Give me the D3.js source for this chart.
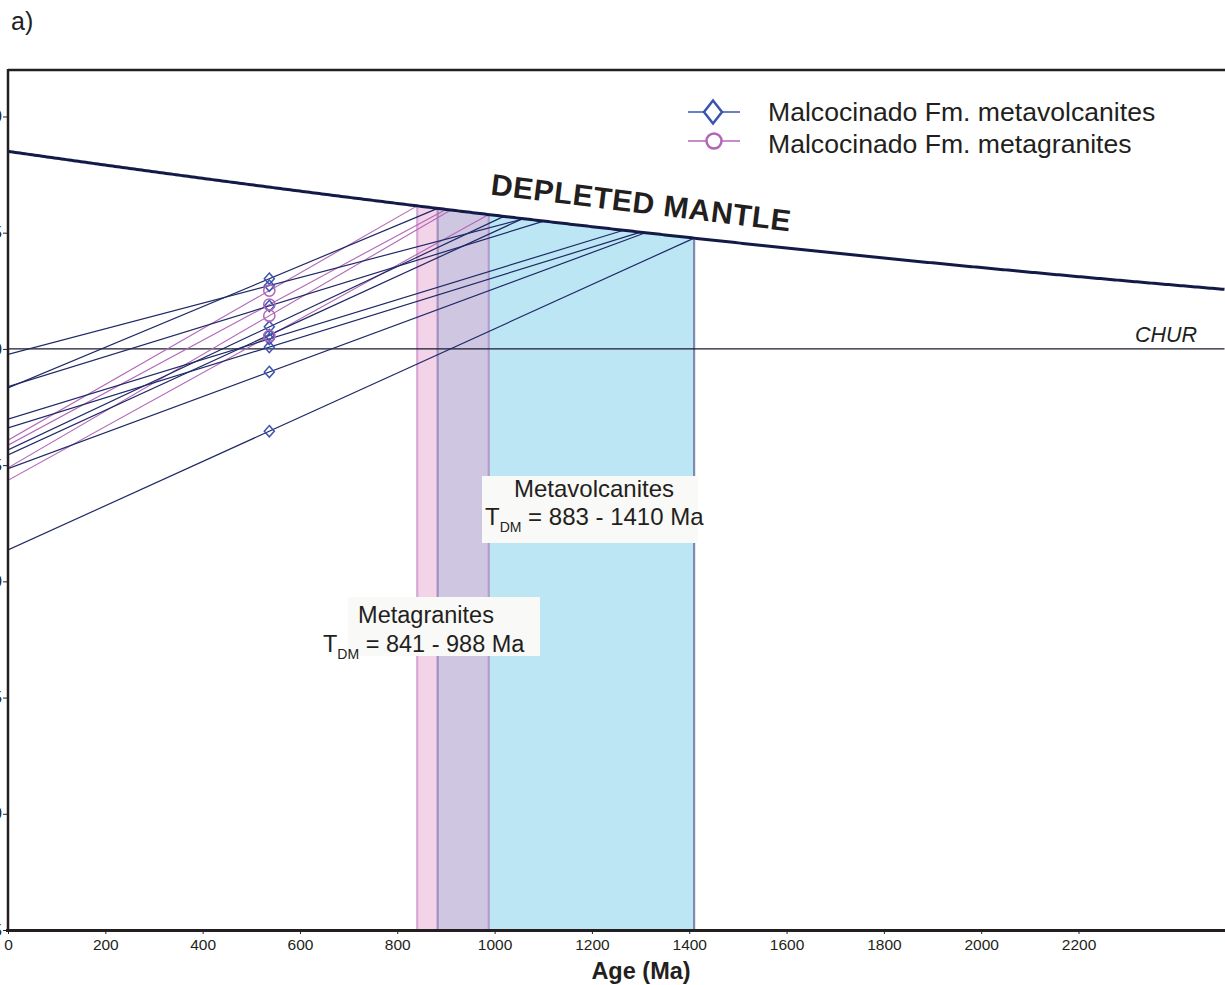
<!DOCTYPE html>
<html>
<head>
<meta charset="utf-8">
<script src="https://cdn.jsdelivr.net/npm/d3@7"></script>
<style>
  html, body { margin: 0; padding: 0; background: #fff; }
  svg { display: block; font-family: "Liberation Sans", Arial, sans-serif; }
</style>
</head>
<body>
<svg id="chart" width="1225" height="985"></svg>
<script>
// Crystallisation age of the Malcocinado Fm. samples (Ma)
const sampleAge = 537;

// Metavolcanites: εNd at the crystallisation age and depleted-mantle model age (Ma)
const volcEps = [3.02, 2.72, 1.85, 0.95, 0.60, 0.43, 0.08, -0.99, -3.54];
const volcTdm = [883, 1060, 1101, 1019, 1058, 1265, 1300, 1310, 1410];

// Metagranites: εNd at the crystallisation age and model age (Ma)
const granEps = [2.51, 1.91, 1.43, 0.56];
const granTdm = [841, 900, 910, 988];

// Depleted mantle evolution (DePaolo 1981): ε = a·T² + b·T + c, T in Ga
const dmCoef = [0.25, -3, 8.5];

// Model-age ranges shaded on the diagram
const granRange = [841, 988];
const volcRange = [883, 1410];

// Axis ticks
const xTicks = [0, 200, 400, 600, 800, 1000, 1200, 1400, 1600, 1800, 2000, 2200];
const yTicks = [10, 5, 0, -5, -10, -15, -20, -25];

const svg = d3.select("#chart");
const x = d3.scaleLinear().domain([0, 2500]).range([8, 1224.5]);
const y = d3.scaleLinear().domain([-25, 12]).range([930, 70]);

const dm = t => { const g = t / 1000; return dmCoef[0] * g * g + dmCoef[1] * g + dmCoef[2]; };
const dmPts = (t0, t1) => d3.range(t0, t1, 5).concat([t1]).map(t => [t, dm(t)]);

const line = d3.line().x(d => x(d[0])).y(d => y(d[1]));
const area = d3.area().x(d => x(d[0])).y0(y(-25)).y1(d => y(d[1]));

// Rhombus marker, half-width w and half-height h
const rhombus = (w, h) => `M0,${-h}L${w},0L0,${h}L${-w},0Z`;

const plot = svg.append("g");
plot.append("clipPath").attr("id", "clip")
  .append("rect").attr("x", 8).attr("y", 70).attr("width", 1217).attr("height", 860);
const inner = plot.append("g").attr("clip-path", "url(#clip)");

// Shaded model-age bands below the depleted mantle curve
const bands = [
  { r: [granRange[0], volcRange[0]], fill: "#f2d3e7" },
  { r: [volcRange[0], granRange[1]], fill: "#cfc7e1" },
  { r: [granRange[1], volcRange[1]], fill: "#bde6f4" }
];
bands.forEach(b => inner.append("path").attr("d", area(dmPts(b.r[0], b.r[1]))).attr("fill", b.fill));

const edges = [
  { t: granRange[0], c: "#d6a8d6" },
  { t: volcRange[0], c: "#a58fbf" },
  { t: granRange[1], c: "#b39dcd" },
  { t: volcRange[1], c: "#7f8ab0" }
];
edges.forEach(e => inner.append("line")
  .attr("x1", x(e.t)).attr("x2", x(e.t))
  .attr("y1", y(dm(e.t))).attr("y2", y(-25))
  .attr("stroke", e.c).attr("stroke-width", 2.2));

// CHUR reference line
inner.append("line").attr("x1", x(0)).attr("x2", x(2500)).attr("y1", y(0)).attr("y2", y(0))
  .attr("stroke", "#1a1a2e").attr("stroke-width", 1.1);

// Nd evolution line of each sample: from today through the sample to the DM curve
function evol(eps, tdm) {
  const e1 = dm(tdm);
  const slope = (e1 - eps) / (tdm - sampleAge);
  const e0 = eps - slope * sampleAge;
  return [[0, e0], [tdm, e1]];
}

granEps.forEach((e, i) => inner.append("path").attr("d", line(evol(e, granTdm[i])))
  .attr("fill", "none").attr("stroke", "#b266b6").attr("stroke-width", 1.1));
volcEps.forEach((e, i) => inner.append("path").attr("d", line(evol(e, volcTdm[i])))
  .attr("fill", "none").attr("stroke", "#1f2966").attr("stroke-width", 1.2));

// Depleted mantle curve
inner.append("path").attr("d", line(dmPts(0, 2500)))
  .attr("fill", "none").attr("stroke", "#131a48").attr("stroke-width", 3);

// Sample markers
volcEps.forEach(e => inner.append("path").attr("d", rhombus(5, 5.6))
  .attr("transform", `translate(${x(sampleAge)},${y(e)})`)
  .attr("fill", "none").attr("stroke", "#3a55b0").attr("stroke-width", 1.5));
granEps.forEach(e => inner.append("circle")
  .attr("cx", x(sampleAge)).attr("cy", y(e)).attr("r", 5.6)
  .attr("fill", "none").attr("stroke", "#b266b6").attr("stroke-width", 1.5));

// Labels on the diagram
const dmAng = Math.atan2(y(dm(1450)) - y(dm(1150)), x(1450) - x(1150)) * 180 / Math.PI;
svg.append("text").attr("transform", `translate(640,213) rotate(${dmAng + 0.6})`)
  .attr("text-anchor", "middle").attr("font-weight", "bold").attr("font-size", 30)
  .attr("letter-spacing", 0.6).attr("fill", "#231f20").text("DEPLETED MANTLE");

svg.append("text").attr("x", 1197).attr("y", 342).attr("text-anchor", "end")
  .attr("font-style", "italic").attr("font-size", 21.5).attr("fill", "#231f20").text("CHUR");

function tdmBox(bx, by, bw, bh, title, titleX, rangeText, tx, fs, dy1, dy2) {
  svg.append("rect").attr("x", bx).attr("y", by).attr("width", bw).attr("height", bh).attr("fill", "#f9f9f7");
  svg.append("text").attr("x", titleX).attr("y", by + dy1).attr("text-anchor", "middle")
    .attr("font-size", fs).attr("fill", "#231f20").text(title);
  const t = svg.append("text").attr("x", tx).attr("y", by + dy2).attr("font-size", fs).attr("fill", "#231f20");
  t.append("tspan").text("T");
  t.append("tspan").attr("dy", 7).attr("font-size", 14).text("DM");
  t.append("tspan").attr("dy", -7).text(" = " + rangeText);
}
tdmBox(482, 476, 216, 67, "Metavolcanites", 594, `${volcRange[0]} - ${volcRange[1]} Ma`, 485, 24, 21, 49);
tdmBox(348, 597, 192, 59, "Metagranites", 426, `${granRange[0]} - ${granRange[1]} Ma`, 323, 23.5, 26, 55);

// Legend
const lg = svg.append("g");
lg.append("line").attr("x1", 688).attr("x2", 740).attr("y1", 112).attr("y2", 112).attr("stroke", "#3a55b0").attr("stroke-width", 1.6);
lg.append("path").attr("d", rhombus(9, 11.5))
  .attr("transform", "translate(713,112)").attr("fill", "#fff").attr("stroke", "#3a55b0").attr("stroke-width", 2.5);
lg.append("line").attr("x1", 688).attr("x2", 740).attr("y1", 141).attr("y2", 141).attr("stroke", "#b266b6").attr("stroke-width", 1.6);
lg.append("circle").attr("cx", 714).attr("cy", 141).attr("r", 7.5).attr("fill", "#fff").attr("stroke", "#b266b6").attr("stroke-width", 2.5);
lg.append("text").attr("x", 768).attr("y", 121).attr("font-size", 26.6).attr("fill", "#231f20").text("Malcocinado Fm. metavolcanites");
lg.append("text").attr("x", 768).attr("y", 153).attr("font-size", 26.6).attr("fill", "#231f20").text("Malcocinado Fm. metagranites");

// Axes
const xAxis = svg.append("g").attr("transform", "translate(0,930)")
  .call(d3.axisBottom(x).tickValues(xTicks).tickSize(4).tickPadding(5).tickFormat(d3.format("d")));
xAxis.select(".domain").remove();
xAxis.selectAll("text").attr("font-size", 15.5).attr("fill", "#231f20").attr("font-family", "Liberation Sans, Arial, sans-serif");
xAxis.selectAll("line").attr("stroke", "#231f20");

const yAxis = svg.append("g").attr("transform", "translate(8,0)")
  .call(d3.axisLeft(y).tickValues(yTicks).tickSize(5).tickPadding(1).tickFormat(d3.format("d")));
yAxis.select(".domain").remove();
yAxis.selectAll("text").attr("font-size", 16).attr("fill", "#231f20").attr("font-family", "Liberation Sans, Arial, sans-serif");
yAxis.selectAll("line").attr("stroke", "#231f20");

// Frame
svg.append("line").attr("x1", 8).attr("x2", 1225).attr("y1", 70).attr("y2", 70).attr("stroke", "#231f20").attr("stroke-width", 2.5);
svg.append("line").attr("x1", 8).attr("x2", 8).attr("y1", 69).attr("y2", 931).attr("stroke", "#231f20").attr("stroke-width", 2.5);
svg.append("line").attr("x1", 6).attr("x2", 1225).attr("y1", 930.5).attr("y2", 930.5).attr("stroke", "#231f20").attr("stroke-width", 3);

svg.append("text").attr("x", 641).attr("y", 979).attr("text-anchor", "middle")
  .attr("font-weight", "bold").attr("font-size", 23.5).attr("fill", "#231f20").text("Age (Ma)");

svg.append("text").attr("x", 11).attr("y", 30).attr("font-size", 25).attr("fill", "#231f20").text("a)");
</script>
</body>
</html>
